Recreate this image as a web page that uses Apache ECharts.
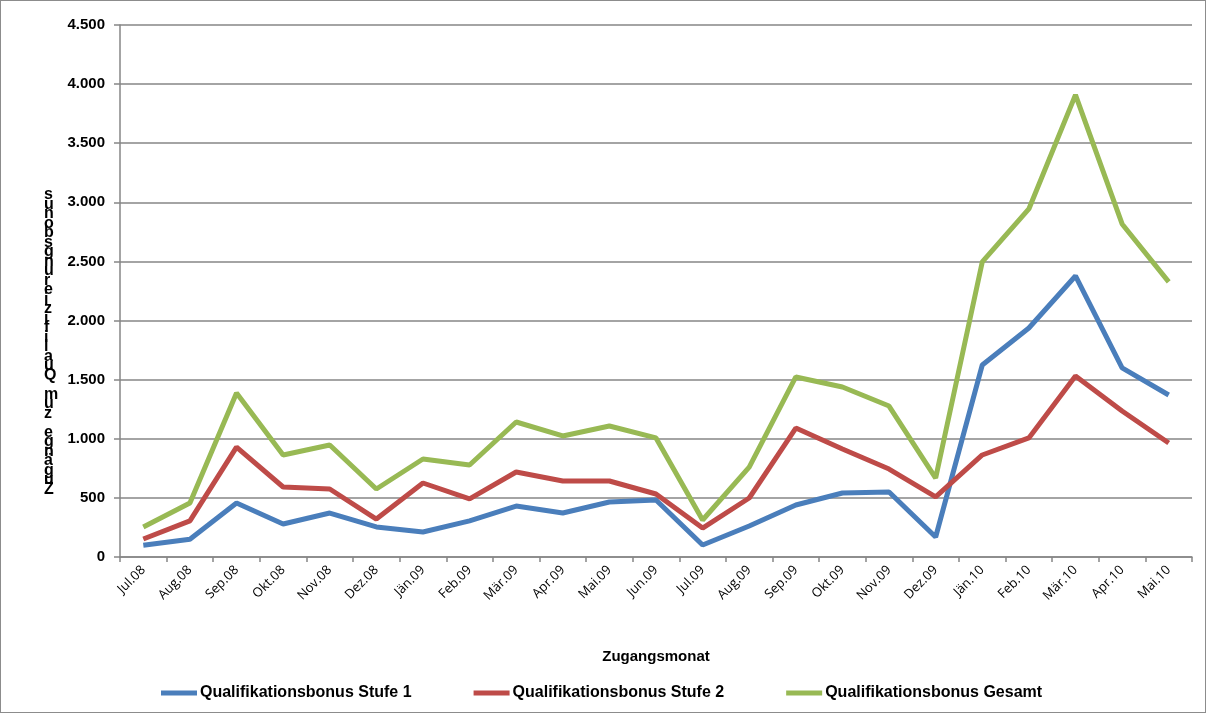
<!DOCTYPE html>
<html>
<head>
<meta charset="utf-8">
<script src="https://cdn.jsdelivr.net/npm/echarts@6/dist/echarts.min.js"></script>
<style>
  html, body { margin: 0; padding: 0; background: #fff; }
  #chart { width: 1206px; height: 713px; box-sizing: border-box; border: 1px solid #8c8c8c; }
</style>
</head>
<body>
<div id="chart"></div>
<script>
var months = ['Jul.08', 'Aug.08', 'Sep.08', 'Okt.08', 'Nov.08', 'Dez.08', 'Jän.09', 'Feb.09',
    'Mär.09', 'Apr.09', 'Mai.09', 'Jun.09', 'Jul.09', 'Aug.09', 'Sep.09', 'Okt.09', 'Nov.09',
    'Dez.09', 'Jän.10', 'Feb.10', 'Mär.10', 'Apr.10', 'Mai.10'];
var stufe1 = [100, 150, 457, 279, 372, 254, 211, 305, 431, 372, 465, 482, 101, 262, 440, 541,
    550, 169, 1624, 1937, 2377, 1599, 1370];
var stufe2 = [152, 305, 930, 592, 575, 321, 626, 491, 719, 643, 643, 533, 245, 499, 1091, 914,
    744, 508, 863, 1007, 1531, 1235, 964];
var gesamt = [254, 457, 1387, 863, 947, 575, 829, 778, 1142, 1024, 1108, 1007, 313, 761, 1523,
    1438, 1277, 668, 2496, 2944, 3909, 2817, 2327];
var yTitle = 'Zugänge zum Qualifizierungsbonus';

// vertical title, letters upright, stacked bottom-up like the original
var stacked = yTitle.split('').reverse().join('\n');

var chart = echarts.init(document.getElementById('chart'));

function line(name, data, color) {
    return {
        name: name,
        type: 'line',
        data: data,
        symbol: 'none',
        lineStyle: { width: 5, color: color },
        itemStyle: { color: color }
    };
}

chart.setOption({
    animation: false,
    grid: { left: 119, right: 13, top: 24, bottom: 155 },
    graphic: [{
        type: 'text',
        left: 43,
        top: 186,
        style: {
            text: stacked,
            font: 'bold 16px "Liberation Sans"',
            lineHeight: 9.5,
            align: 'center',
            fill: '#000'
        }
    }],
    legend: {
        bottom: 6,
        left: 155,
        itemWidth: 36,
        itemHeight: 5,
        itemGap: 62,
        icon: 'rect',
        textStyle: { fontFamily: 'Liberation Sans', fontWeight: 'bold', fontSize: 16, color: '#000', padding: [0, 0, 0, -2] },
        data: ['Qualifikationsbonus Stufe 1', 'Qualifikationsbonus Stufe 2', 'Qualifikationsbonus Gesamt']
    },
    xAxis: {
        type: 'category',
        data: months,
        boundaryGap: true,
        name: 'Zugangsmonat',
        nameLocation: 'middle',
        nameGap: 92,
        nameTextStyle: { fontFamily: 'Liberation Sans', fontWeight: 'bold', fontSize: 15, color: '#000' },
        axisLine: { lineStyle: { color: '#868686', width: 1.5 } },
        axisTick: { show: true, length: 5, lineStyle: { color: '#868686', width: 1.5 } },
        axisLabel: { rotate: 45, fontFamily: 'Open Sans', fontSize: 13, color: '#000', margin: 11, interval: 0 }
    },
    yAxis: {
        type: 'value',
        min: 0,
        max: 4500,
        interval: 500,
        axisLine: { show: true, lineStyle: { color: '#868686', width: 1.5 } },
        axisTick: { show: true, length: 6, lineStyle: { color: '#868686', width: 1.5 } },
        splitLine: { lineStyle: { color: '#868686', width: 1.5 } },
        axisLabel: {
            fontFamily: 'Liberation Sans', fontWeight: 'bold', fontSize: 15, color: '#000', margin: 15,
            formatter: function (v) { return v >= 1000 ? Math.floor(v / 1000) + '.' + String(v % 1000).padStart(3, '0') : String(v); }
        }
    },
    series: [
        line('Qualifikationsbonus Stufe 1', stufe1, '#4A7EBB'),
        line('Qualifikationsbonus Stufe 2', stufe2, '#BE4B48'),
        line('Qualifikationsbonus Gesamt', gesamt, '#98B954')
    ]
});
</script>
</body>
</html>
